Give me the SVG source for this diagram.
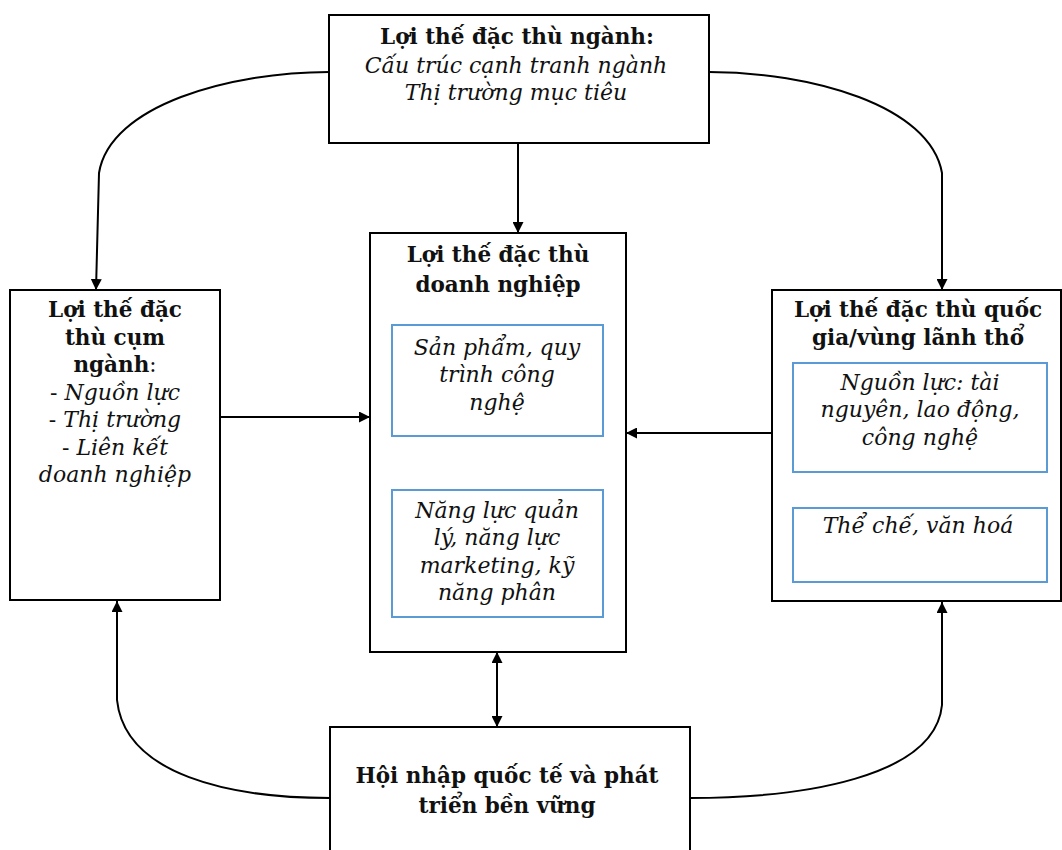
<svg xmlns="http://www.w3.org/2000/svg" width="1062" height="850" viewBox="0 0 1062 850">
<style>
.box{fill:#fff;stroke:#000;stroke-width:2}
.inner{fill:#fff;stroke:#5b9bd5;stroke-width:2}
.b{font-family:"DejaVu Serif","Liberation Serif",serif;font-weight:bold;font-size:21.5px;text-anchor:middle;fill:#111}
.i{font-family:"DejaVu Serif","Liberation Serif",serif;font-style:italic;font-size:22px;text-anchor:middle;fill:#111}
.c{fill:none;stroke:#000;stroke-width:2}
</style>
<defs>
<marker id="ah" viewBox="0 0 10 10" refX="10" refY="5" markerWidth="5.5" markerHeight="5.5" orient="auto-start-reverse" markerUnits="strokeWidth">
<path d="M0,0 L10,5 L0,10 z" fill="#000"/>
</marker>
</defs>
<rect width="1062" height="850" fill="#fff"/>
<g id="connectors">
<path class="c" d="M518,143 L518,233" marker-end="url(#ah)"/>
<path class="c" d="M329,72 C230,72 110,105 99,173 L96,290" marker-end="url(#ah)"/>
<path class="c" d="M709,72 C810,72 930,105 942,173 L942,290" marker-end="url(#ah)"/>
<path class="c" d="M220,417 L370,417" marker-end="url(#ah)"/>
<path class="c" d="M772,433 L626,433" marker-end="url(#ah)"/>
<path class="c" d="M497,652 L497,727" marker-start="url(#ah)" marker-end="url(#ah)"/>
<path class="c" d="M497,436 L497,490" marker-start="url(#ah)" marker-end="url(#ah)"/>
<path class="c" d="M920,472 L920,508" marker-start="url(#ah)" marker-end="url(#ah)"/>
<path class="c" d="M330,798 C230,798 125,775 117,700 L117,601" marker-end="url(#ah)"/>
<path class="c" d="M690,798 C800,798 935,778 942,705 L942,602" marker-end="url(#ah)"/>
</g>
<g id="node-top">
<rect class="box" x="329" y="15" width="380" height="128"/>
<text class="b" x="517" y="44">Lợi thế đặc thù ngành:</text>
<text class="i" x="516" y="73">Cấu trúc cạnh tranh ngành</text>
<text class="i" x="516" y="100">Thị trường mục tiêu</text>
</g>
<g id="node-left">
<rect class="box" x="10" y="290" width="210" height="310"/>
<text class="b" x="115" y="317">Lợi thế đặc</text>
<text class="b" x="115" y="345">thù cụm</text>
<text class="b" x="115" y="372">ngành<tspan font-weight="normal">:</tspan></text>
<text class="i" x="115" y="400"><tspan font-style="normal">- </tspan>Nguồn lực</text>
<text class="i" x="115" y="427"><tspan font-style="normal">- </tspan>Thị trường</text>
<text class="i" x="115" y="455"><tspan font-style="normal">- </tspan>Liên kết</text>
<text class="i" x="115" y="482">doanh nghiệp</text>
</g>
<g id="node-center">
<rect class="box" x="370" y="233" width="256" height="419"/>
<text class="b" x="498" y="262">Lợi thế đặc thù</text>
<text class="b" x="498" y="292">doanh nghiệp</text>
<g id="node-center-1">
<rect class="inner" x="392" y="325" width="211" height="111"/>
<text class="i" x="497" y="355">Sản phẩm, quy</text>
<text class="i" x="497" y="382">trình công</text>
<text class="i" x="497" y="410">nghệ</text>
</g>
<g id="node-center-2">
<rect class="inner" x="392" y="490" width="211" height="127"/>
<text class="i" x="497" y="518">Năng lực quản</text>
<text class="i" x="497" y="545">lý, năng lực</text>
<text class="i" x="497" y="573">marketing, kỹ</text>
<text class="i" x="497" y="600">năng phân</text>
</g>
</g>
<g id="node-right">
<rect class="box" x="772" y="290" width="289" height="311"/>
<text class="b" x="918" y="317">Lợi thế đặc thù quốc</text>
<text class="b" x="918" y="345">gia/vùng lãnh thổ</text>
<g id="node-right-1">
<rect class="inner" x="793" y="363" width="254" height="109"/>
<text class="i" x="920" y="390">Nguồn lực: tài</text>
<text class="i" x="920" y="417">nguyên, lao động,</text>
<text class="i" x="920" y="445">công nghệ</text>
</g>
<g id="node-right-2">
<rect class="inner" x="793" y="508" width="254" height="74"/>
<text class="i" x="918" y="533">Thể chế, văn hoá</text>
</g>
</g>
<g id="node-bottom">
<rect class="box" x="330" y="727" width="360" height="140"/>
<text class="b" x="507" y="783">Hội nhập quốc tế và phát</text>
<text class="b" x="507" y="813">triển bền vững</text>
</g>
</svg>
